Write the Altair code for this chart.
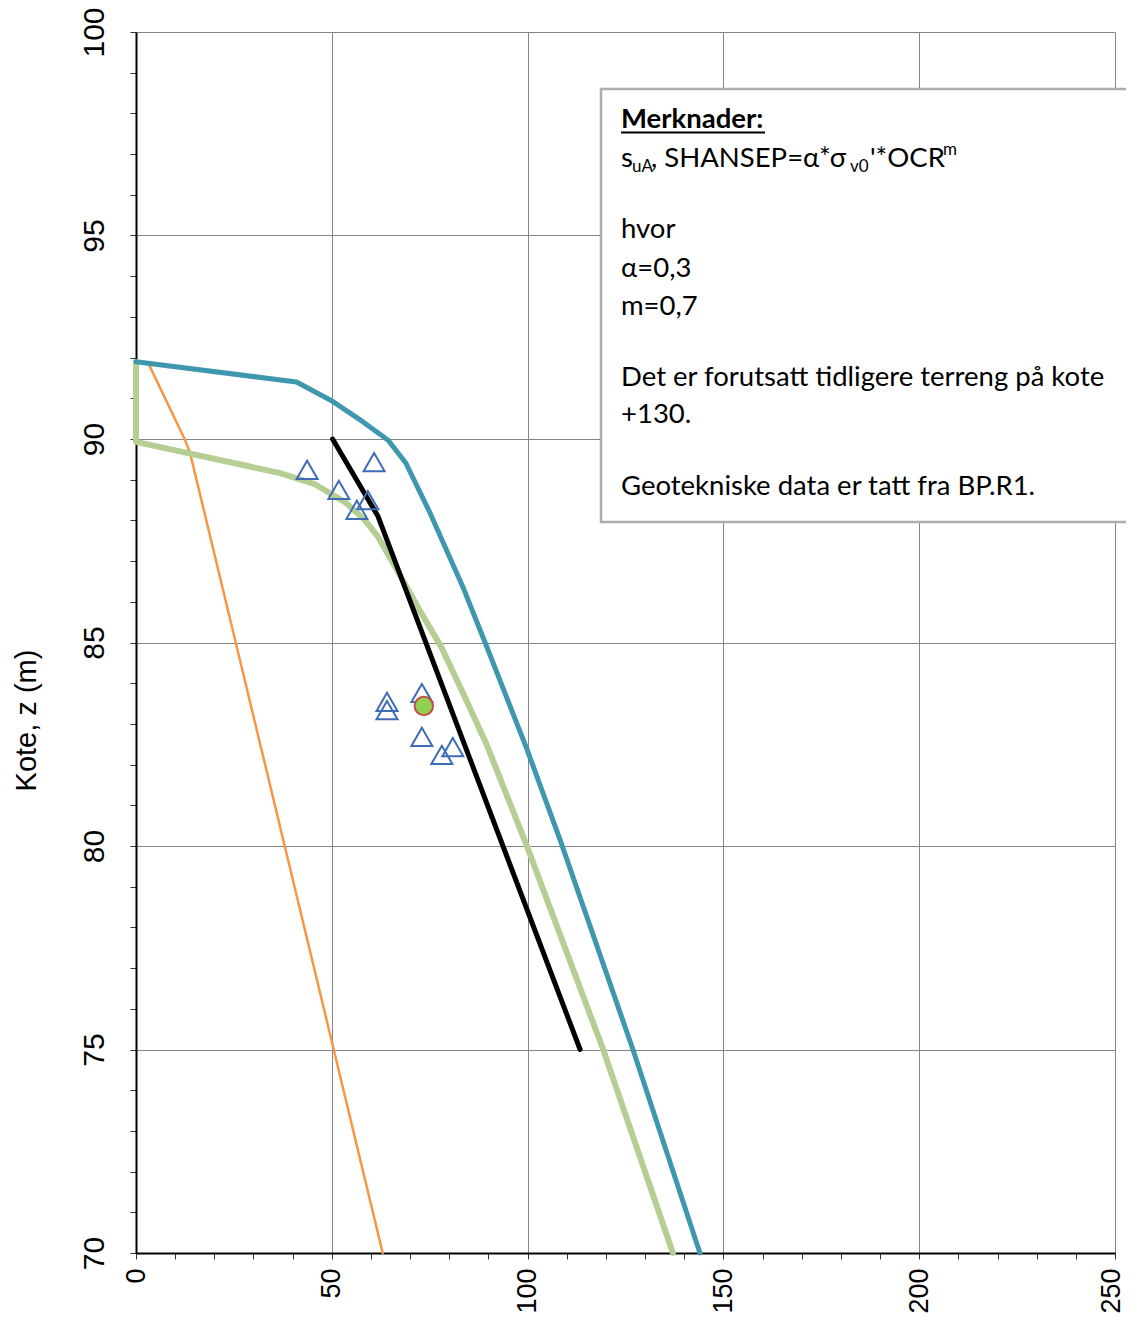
import altair as alt
import pandas as pd

# ---- data ----
teal_x = [0, 41.0, 50.3, 58.0, 64.4, 68.9, 75.0, 83.5, 89.6, 99.9, 108.3, 126.9, 144.0]
teal_y = [91.9, 91.4, 90.92, 90.42, 89.97, 89.41, 88.2, 86.36, 84.89, 82.36, 80.15, 75.0, 70.0]

green_x = [0, 0, 27.3, 36.8, 45.5, 53.5, 58.5, 62.0, 67.4, 72.5, 78.0, 83.5, 89.6, 99.6, 119.3, 137.1]
green_y = [91.9, 89.93, 89.36, 89.16, 88.9, 88.44, 88.0, 87.57, 86.65, 85.78, 84.88, 83.76, 82.48, 80.05, 75.0, 70.0]

orange_x = [3.1, 12.5, 13.8, 63.0]
orange_y = [91.87, 89.98, 89.66, 70.0]

black_x = [50.2, 61.8, 113.4]
black_y = [90.0, 88.1, 75.0]

tri_x = [43.7, 60.8, 51.8, 59.2, 56.4, 64.1, 64.1, 73.0, 73.0, 78.1, 80.9]
tri_y = [89.24, 89.43, 88.75, 88.5, 88.26, 83.54, 83.34, 83.76, 82.68, 82.24, 82.43]

dot_x = [73.5]
dot_y = [83.44]

x_ticks = list(range(0, 251, 10))
y_ticks = list(range(70, 101, 1))

AX_FONT = "Liberation Sans"
TXT_FONT = "Lato"


def frame(xs, ys):
    return pd.DataFrame({"x": xs, "y": ys, "i": list(range(len(xs)))})


x_axis = alt.Axis(
    values=x_ticks,
    labelExpr="datum.value % 50 === 0 ? datum.label : ''",
    gridOpacity={"condition": {"test": "datum.value % 50 === 0", "value": 1}, "value": 0},
    gridColor="#858585", gridWidth=1,
    domainColor="#000000", domainWidth=2,
    tickColor="#333333", tickSize=6, tickWidth=1,
    labelAngle=270, labelAlign="right", labelBaseline="middle",
    labelOffset={"condition": {"test": "datum.value === 250", "value": -4}, "value": 0},
    labelPadding=9, labelFont=AX_FONT, labelFontSize=27, labelColor="#000000",
    labelFlush=False, labelOverlap=False, title=None,
)
y_axis = alt.Axis(
    values=y_ticks,
    labelExpr="datum.value % 5 === 0 ? datum.label : ''",
    gridOpacity={"condition": {"test": "datum.value % 5 === 0", "value": 1}, "value": 0},
    gridColor="#858585", gridWidth=1,
    domainColor="#000000", domainWidth=2,
    tickColor="#333333", tickSize=6, tickWidth=1,
    labelAngle=270, labelAlign="center", labelBaseline="alphabetic",
    labelPadding=27, labelFont=AX_FONT, labelFontSize=30, labelColor="#000000",
    labelFlush=False, labelOverlap=False,
    title="Kote, z (m)", titleFont=AX_FONT, titleFontSize=29, titleFontWeight="normal",
    titleColor="#000000", titleAngle=270, titleAlign="center", titleBaseline="alphabetic",
    titleX=-101, titleY=688,
)

X = lambda: alt.X("x:Q", scale=alt.Scale(domain=[0, 250], nice=False, zero=False), axis=x_axis)
Y = lambda: alt.Y("y:Q", scale=alt.Scale(domain=[70, 100], nice=False, zero=False), axis=y_axis)


def line(xs, ys, color, width):
    return alt.Chart(frame(xs, ys)).mark_line(
        color=color, strokeWidth=width, strokeCap="round", strokeJoin="round", clip=False
    ).encode(x=X(), y=Y(), order=alt.Order("i:Q"))


orange = line(orange_x, orange_y, "#F79646", 2.5)
green = line(green_x, green_y, "#B5CE93", 6)
teal = line(teal_x, teal_y, "#3F97AF", 5)
black = line(black_x, black_y, "#000000", 5)

tris = alt.Chart(frame(tri_x, tri_y)).mark_point(
    shape="triangle-up", filled=False, stroke="#3E6DB5", strokeWidth=2, size=440, opacity=1
).encode(x=X(), y=Y())

dot = alt.Chart(frame(dot_x, dot_y)).mark_point(
    shape="circle", filled=True, fill="#92D050", stroke="#C0504D", strokeWidth=2, size=340, opacity=1
).encode(x=X(), y=Y())

one = alt.Data(values=[{"a": 1}])

box = alt.Chart(one).mark_rect(
    fill="#FFFFFF", stroke="#ADADAD", strokeWidth=2.5, clip=False
).encode(x=alt.value(465), x2=alt.value(1000), y=alt.value(57), y2=alt.value(490))


def txt(s, x, y, size=27.5, bold=False):
    return alt.Chart(one).mark_text(
        text=s, align="left", baseline="alphabetic", font=TXT_FONT, fontSize=size,
        fontWeight="bold" if bold else "normal", color="#000000", clip=False
    ).encode(x=alt.value(x), y=alt.value(y))


underline = alt.Chart(one).mark_rule(color="#000000", strokeWidth=2).encode(
    x=alt.value(485), x2=alt.value(629), y=alt.value(100.5)
)

texts = [
    txt("Merknader:", 485, 95.5, bold=True),
    txt("s", 485, 134.6),
    txt("uA", 496, 140, size=17),
    txt(", SHANSEP=α*σ", 515, 134.6),
    txt("v0", 714, 140, size=17),
    txt("'*OCR", 734, 134.6),
    txt("m", 807, 123, size=17),
    txt("hvor", 485, 206),
    txt("α=0,3", 485, 245),
    txt("m=0,7", 485, 282.6),
    txt("Det er forutsatt tidligere terreng på kote", 485, 354),
    txt("+130.", 485, 391.4),
    txt("Geotekniske data er tatt fra BP.R1.", 485, 463),
]

chart = alt.layer(
    orange, green, teal, black, tris, dot, box, underline, *texts
).properties(
    width=979, height=1221,
    autosize=alt.AutoSizeParams(type="none"),
    padding={"left": 128, "top": 24, "right": 11, "bottom": 60},
).configure_view(
    stroke="#9A9A9A", strokeWidth=2
).configure(background="#FFFFFF")

chart.save("out.html", embed_options={"renderer": "svg", "actions": False})
